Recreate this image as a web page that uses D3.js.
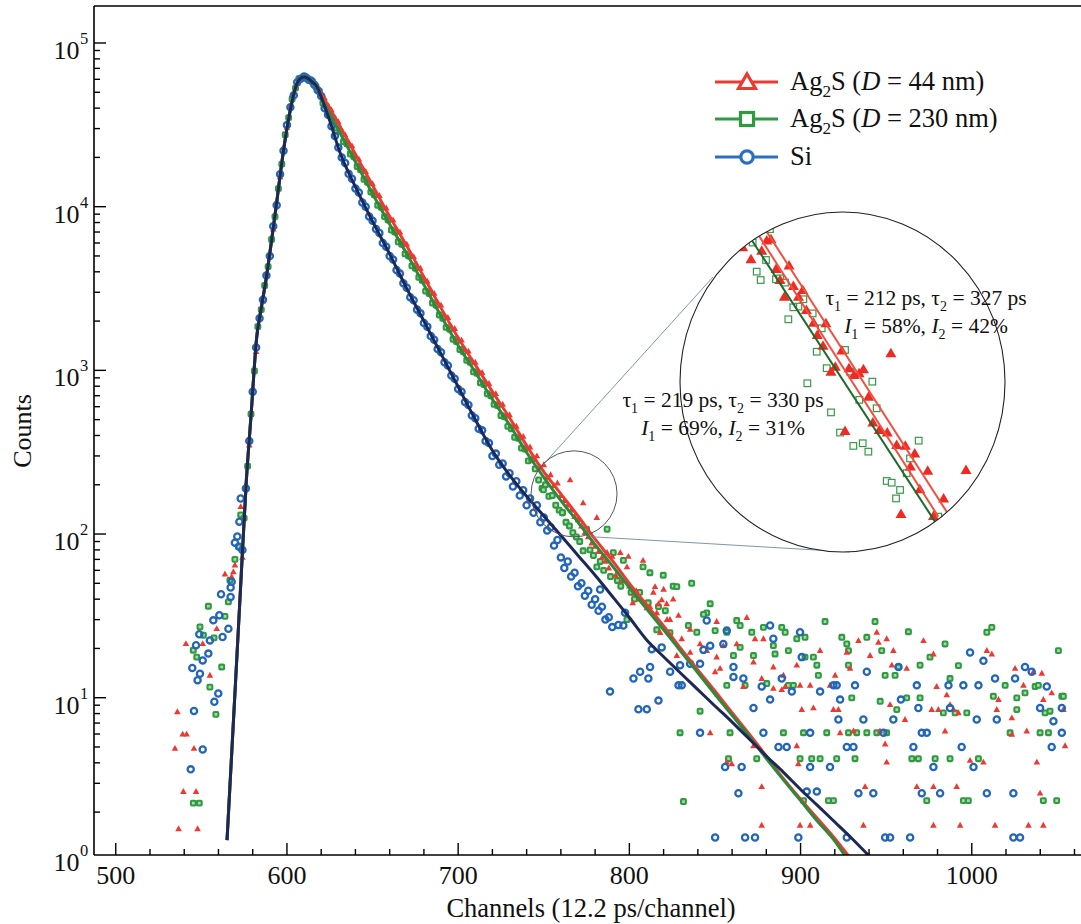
<!DOCTYPE html>
<html><head><meta charset="utf-8">
<script src="https://cdn.jsdelivr.net/npm/d3@7"></script>
<style>body{margin:0;background:#fff}svg{display:block;font-family:"Liberation Serif","Times New Roman",serif}</style>
</head><body>
<svg id="c" width="1081" height="924"></svg>
<script>
// ---------------- DATA ----------------
const xMajorTicks = [500, 600, 700, 800, 900, 1000];
const yExponents = [0, 1, 2, 3, 4, 5];
const seriesNames = ["Ag2S (D = 44 nm)", "Ag2S (D = 230 nm)", "Si"];

// fitted curves [channel, counts]
const siFit = [[565,1.35],[567,3.3],[570,12.6],[573,49],[576.3,214],[579,525],[582.4,1620],[585,2400],[588.4,3950],[591,6200],[594.2,11000],[597,18600],[600,30000],[603,44000],[605.7,56000],[608,61000],[610,62000],[612,61000],[615,57500],[617.6,53800],[620,46800],[625,33500],[631,21400],[640,13200],[650,8130],[660,5130],[670,3160],[680,2000],[690,1260],[700,794],[710,501],[720,324],[730,229],[740,170],[750,129],[760,98],[770,74],[780,56],[790,41.7],[800,30.9],[810,22.6],[820,17.8],[830,14.1],[840,11.2],[850,8.9],[860,7.1],[870,5.6],[880,4.4],[890,3.5],[900,2.75],[910,2.19],[920,1.74],[930,1.38],[940,1.08]];
const ag44Fit = [[565,1.35],[567,3.3],[570,12.6],[573,49],[576.3,214],[579,525],[582.4,1620],[585,2400],[588.4,3950],[591,6200],[594.2,11000],[597,18600],[600,30000],[603,44000],[605.7,56000],[608,61000],[610,62000],[612,61000],[615,58000],[617.6,53800],[620,49000],[630,32400],[640,20900],[650,13500],[660,8700],[670,5750],[680,3720],[690,2400],[700,1580],[710,1080],[720,741],[730,513],[740,347],[748,257],[760,176],[770,129],[780,93],[790,69],[800,50],[810,37],[820,27.5],[830,20],[840,14.8],[850,11],[860,8.1],[870,6.0],[880,4.4],[890,3.2],[900,2.4],[910,1.82],[920,1.38],[928,1.08]];
const ag230Fit = [[565,1.35],[567,3.3],[570,12.6],[573,49],[576.3,214],[579,525],[582.4,1620],[585,2400],[588.4,3950],[591,6200],[594.2,11000],[597,18600],[600,30000],[603,44000],[605.7,56000],[608,61000],[610,62000],[612,61000],[615,57500],[617.6,53800],[620,47000],[630,29500],[640,18800],[650,12000],[660,7800],[670,5150],[680,3330],[690,2150],[700,1420],[710,975],[720,665],[730,465],[740,315],[750,222],[760,160],[770,118],[780,86],[790,64],[800,47],[810,35],[820,26],[830,19.2],[840,14.2],[850,10.5],[860,7.8],[870,5.8],[880,4.25],[890,3.15],[900,2.35],[910,1.75],[920,1.33],[926,1.08]];

// dense measured band: counts every 2 channels
const siBandStart = 574;
const siBand = [80,190,370,740,1380,2080,2700,3800,5000,7600,10200,15800,22000,31500,40500,48000,57500,60500,62500,60500,59000,55500,51500,47500,40000,36500,31000,27000,23000,20000,18500,15900,14800,12900,12200,10600,10000,8700,8200,7300,6900,6000,5700,5000,4750,4100,3900,3400,3200,2800,2680,2350,2230,1950,1850,1620,1540,1350,1290,1120,1070,930,890,770,740,640,615,530,510,440,430,370,360,300,310,265,270,225,235,195,210,172,185,150,165,135,150,118,126,105,110,85,92,72,62,68,55,58,48,50,42,45,37,40,34,36,30,31,27];
const ag44BandStart = 574;
const ag44Band = [72,200,350,780,1300,2150,2650,3900,5200,7300,10800,15200,23000,30500,41000,49500,56500,61500,61000,61500,58500,57000,53500,49500,46000,41500,39000,35000,33000,29000,27500,24800,23500,20500,19500,17300,16400,14500,13800,12100,11700,10200,9800,8600,8300,7300,7000,6100,5900,5200,4950,4350,4200,3650,3500,3100,2950,2600,2500,2180,2100,1850,1800,1560,1530,1340,1310,1150,1120,980,970,850,830,730,720,630,620,540,535,465,455,400,395,340,340,295,300,255,265,222,230,198,205,172];
const ag230BandStart = 575;
const ag230Band = [125,260,540,990,1850,2350,3300,4300,6300,8700,12900,18200,27500,35000,45500,53000,60500,61000,62000,59000,58000,54000,50500,43000,41000,36000,34500,30200,28800,25000,24200,21000,20200,17600,16800,14700,14100,12300,11800,10200,9900,8700,8300,7200,7000,6100,5900,5150,5000,4350,4200,3700,3550,3050,2950,2580,2500,2180,2080,1830,1780,1550,1500,1340,1300,1150,1120,980,960,840,820,720,700,620,610,530,520,455,440,390,385,335,330,280,285,250,214,190,200,170,172,150,140,135];

// early (pre-rise) points [channel, counts]
const siPre = [[543.8,3.65],[544.7,15.2],[545.7,8.29],[546.9,20.9],[547.8,12.8],[548.8,24.4],[549.2,14.0],[550.8,16.9],[550.8,4.83],[554.1,18.6],[555.0,22.4],[557.0,29.7],[557.6,9.45],[559.9,10.6],[560.5,31.9],[561.5,42.9],[562.4,23.5],[565.8,26.4],[567.1,47.1],[567.1,41.3],[567.7,51.1],[569.6,88.6],[571.0,96.5],[572.2,119],[572.2,83.7],[573.0,165]];
const ag44Pre = [[534.6,4.9],[536.0,8.21],[536.7,1.58],[539.1,5.99],[539.5,2.67],[541.0,21.4],[541.4,5.99],[545.7,4.9],[546.9,2.67],[547.8,1.58],[550.8,21.4],[555.0,13.7],[559.0,26.4],[563.8,56.9],[567.7,54.8],[568.7,58.8],[569.6,64.6],[573.0,147]];
const ag230Pre = [[545.3,19.5],[545.3,2.27],[547.3,17.7],[548.8,2.27],[549.2,27.1],[551.2,24.1],[554.1,36.2],[555.0,11.6],[557.4,23.2],[558.5,7.91],[561.9,15.4],[563.8,31.4],[565.8,38.5],[566.7,52.3],[569.6,70],[571.6,83.7],[573.0,131]];

// intermediate region scatter
const ag44Mid = [[762,160],[764,150],[765.4,214],[766,140],[768,128],[770,122],[772,112],[773,155],[774,102],[776,96],[778,88],[780,84],[781,126],[782,78],[784,72],[786,68],[787,77],[788,62],[790,73],[792,56],[794.7,77],[796,52],[798.6,63],[799.4,73],[800,48],[802,38],[802.4,43.6],[804,45],[806,40],[808,69],[810.2,35.4],[812,36],[814,44],[815,47.7],[816,33],[818,25],[820,46],[822,30],[823.7,30],[825.6,40]];
const ag230Mid = [[749.8,186],[760.8,135],[763,118],[765,112],[767,102],[769,96],[771,90],[773,79],[775,107],[777,80],[779,74],[781,63],[783,68],[785,60],[787,107],[789,55],[790.6,77],[793,52],[795,48],[796.5,69],[798.6,30],[801,44],[803,40],[806,44],[808,63],[811,38],[812,58],[816,26],[817,36],[819.8,56],[821,34],[823.7,25],[825.6,48]];

// background tail points
const siTail = [[788.7,10.9],[782.9,45.8],[793.6,27.8],[796.5,27.6],[797.5,33.0],[802.4,13.1],[806.3,14.4],[812.1,15.4],[811.1,13.1],[805.3,8.5],[810.2,8.5],[817.0,9.6],[813.1,19.8],[818.9,20.3],[828.7,11.9],[830.6,11.9],[823.8,14.4],[829.6,15.8],[835.5,16.1],[841.3,16.1],[843.3,19.6],[845.2,29.6],[841.3,6.1],[847.2,20.8],[854.9,21.3],[856.9,25.7],[860.8,15.4],[855.9,3.77],[865.6,3.77],[863.7,2.61],[860.8,13.4],[866.6,13.1],[872.5,8.66],[878.3,6.11],[877.3,11.7],[882.2,9.74],[882.2,27.6],[884.1,22.9],[887.1,5.0],[891.9,5.0],[889.0,13.1],[894.9,10.9],[899.7,25.1],[900.7,17.7],[905.6,6.1],[905.6,3.77],[903.6,2.67],[909.5,2.67],[911.4,10.9],[917.2,3.77],[919.2,11.9],[921.1,11.9],[922.1,7.36],[923.1,9.74],[927.0,5.0],[930.9,5.0],[931.8,11.9],[936.7,7.36],[938.7,14.4],[942.5,2.61],[933.8,2.61],[948.4,6.1],[954.2,7.36],[957.2,15.4],[958.6,9.74],[965.9,5.0],[967.9,11.9],[968.8,8.66],[970.8,6.1],[973.7,6.1],[970.8,2.61],[977.6,3.77],[981.5,2.61],[986.4,11.9],[987.3,8.66],[994.1,5.0],[995.1,11.9],[999.0,18.9],[1001.0,3.77],[1002.9,7.36],[1006.8,16.8],[1003.9,11.9],[1008.8,2.61],[1014.6,7.36],[1013.6,13.1],[1025.3,13.1],[1024.3,2.61],[1031.1,15.4],[1035.0,14.4],[1039.9,8.66],[1043.8,11.7],[1046.7,5.0],[1047.7,7.19],[1052.6,6.1],[1052.6,8.66],[850.1,1.4],[867.6,1.4],[873.4,1.4],[898.7,1.4],[927.0,1.4],[949.4,1.4],[952.3,1.4],[964.0,1.4],[1024.3,1.4],[1028.2,1.4]];
const ag44Tail = [[868.6,30.9],[873.4,22.9],[878.3,22.9],[851.0,29.2],[828.7,31.8],[821.8,37.5],[818.9,39.6],[817.0,37.5],[835.5,26.2],[830.6,22.9],[827.7,18.1],[835.5,18.9],[841.3,21.3],[845.2,19.4],[851.0,17.7],[854.9,20.8],[862.7,21.3],[850.1,14.4],[853.0,15.1],[866.6,11.7],[872.5,16.5],[884.1,15.4],[890.0,13.7],[897.8,15.8],[877.3,13.1],[884.1,11.4],[889.0,11.2],[891.0,11.7],[899.7,11.9],[905.6,11.9],[911.4,19.4],[917.2,11.9],[920.2,13.7],[927.0,18.9],[928.9,15.1],[933.8,22.3],[940.6,18.1],[944.5,25.1],[945.5,21.8],[950.3,22.9],[954.2,19.4],[953.3,15.8],[962.0,15.1],[971.8,22.3],[977.6,18.5],[979.5,11.7],[985.4,10.4],[987.3,9.07],[989.3,8.46],[980.5,8.46],[992.2,8.08],[999.0,4.14],[1006.8,4.04],[1008.8,19.4],[1011.7,18.5],[1015.6,9.74],[1023.4,7.53],[1025.3,15.1],[1030.2,11.9],[1036.0,14.4],[1040.9,14.1],[1046.7,10.7],[1041.8,9.74],[1053.5,8.46],[1038.0,4.04],[847.2,6.11],[856.9,4.04],[859.8,3.95],[872.5,5.08],[897.8,5.08],[898.7,3.95],[877.3,2.86],[899.7,1.66],[905.6,1.66],[877.3,1.66],[937.7,2.86],[936.7,1.66],[950.3,4.04],[967.9,2.86],[977.6,2.86],[991.2,2.86],[977.6,1.66],[993.2,1.66],[1013.6,1.66],[1033.1,1.66],[1041.8,1.66],[919.2,8.46],[922.1,8.46],[907.5,8.66],[900.7,8.46],[952.3,9.07],[961.0,7.36],[976.6,8.46],[984.4,6.26],[1014.6,8.46],[1023.4,5.97],[1032.1,6.26],[1054.5,5.08],[1039.9,2.61],[949.4,5.21],[946.4,6.26],[923.1,6.11],[930.9,6.26]];
const ag230Tail = [[827.7,47.7],[836.4,50.0],[847.2,37.5],[845.2,33.0],[843.3,32.3],[839.4,25.1],[834.5,27.6],[850.1,25.7],[856.9,25.1],[862.7,29.6],[864.7,27.6],[864.7,20.3],[871.5,25.1],[878.3,26.9],[884.1,20.8],[889.0,26.9],[891.0,25.1],[892.9,19.4],[897.8,22.9],[902.6,23.4],[902.6,17.7],[907.5,17.7],[909.5,15.8],[910.4,13.7],[914.3,29.2],[924.1,23.4],[927.0,21.3],[928.0,19.4],[928.0,15.8],[938.7,23.4],[943.5,29.2],[947.4,19.4],[949.4,13.7],[955.2,13.7],[957.2,15.4],[963.0,25.3],[969.8,15.8],[975.6,17.7],[984.4,21.3],[987.3,13.1],[992.2,15.7],[1008.8,25.1],[1011.7,26.9],[1019.5,11.9],[1026.3,9.97],[1031.1,10.7],[1037.0,11.7],[1038.9,11.9],[1042.8,8.08],[1045.7,8.27],[1050.6,19.4],[1052.6,10.2],[880.3,12.2],[867.6,11.9],[856.9,11.9],[860.8,18.1],[872.5,18.1],[885.1,18.5],[892.9,11.9],[895.8,11.9],[901.7,6.11],[899.7,4.24],[906.5,4.24],[911.4,4.24],[921.1,4.24],[931.8,4.24],[915.3,6.11],[928.0,6.11],[932.8,6.11],[938.7,6.11],[944.5,6.11],[950.3,6.11],[956.2,8.46],[962.0,9.97],[969.8,9.97],[978.6,4.24],[987.3,4.24],[1003.9,4.24],[1022.4,6.11],[1039.9,6.11],[1044.8,6.11],[1026.3,8.46],[1012.6,10.2],[968.8,4.24],[965.0,4.24],[890.0,6.11],[874.4,4.24],[857.9,4.24],[858.8,6.11],[841.3,8.27],[829.6,6.11],[831.6,2.32],[901.7,2.35],[916.3,2.35],[919.2,2.35],[973.7,2.35],[995.1,2.35],[998.0,2.35],[1041.8,2.35],[1049.6,2.35],[1053.5,10.2],[983.4,8.08],[990.3,8.08],[997.1,8.08],[946.5,9.51],[929.9,9.97]];

// magnified inset [channel, counts]
const insetAg44 = [[753.68,267.7],[754.83,257.5],[756.31,264.8],[757.0,273.5],[757.6,274.7],[758.3,249.6],[760.1,252.3],[759.45,228.2],[760.7,236.2],[762.0,233.2],[761.4,228.2],[762.5,218.6],[763.5,209.8],[765.2,209.4],[764.0,201.6],[764.8,194.8],[767.4,191.7],[774.2,190.0],[766.5,182.0],[765.9,179.1],[768.4,181.1],[769.1,177.2],[770.4,180.5],[769.8,178.2],[771.1,165.2],[771.7,151.9],[772.6,148.3],[773.7,147.1],[775.0,141.3],[776.2,141.0],[777.5,137.5],[776.9,131.8],[779.3,130.0],[784.6,130.3],[778.2,122.5],[781.5,118.9],[775.6,113.1],[780.1,112.3],[767.85,147.9],[758.85,240.8]];
const insetAg230 = [[757.46,283.8],[755.06,271.8],[756.91,256.9],[755.62,247.4],[756.17,240.8],[758.29,241.4],[758.85,242.1],[759.54,238.8],[761.39,221.0],[760.69,220.5],[762.08,226.3],[760.0,212.1],[763.37,216.2],[764.62,206.0],[763.93,191.0],[767.85,192.1],[765.31,181.1],[768.54,179.1],[771.63,173.4],[762.63,172.5],[769.83,163.5],[772.23,159.1],[765.91,157.0],[767.16,147.1],[769.0,140.9],[770.3,142.1],[771.08,138.3],[778.05,143.3],[776.85,135.3],[776.39,129.0],[773.62,125.8],[774.31,125.1],[775.47,122.2],[774.91,118.9],[780.77,112.1]];
const insetAg44Lines = [[[755.85,278.6],[780.77,112.1]],[[757.0,281.6],[781.93,113.9]]];
const insetAg230Line = [[754.92,274.1],[780.31,110.3]];
const magnifierCenter = [767.7, 176];

const annotA = [[["τ"],["1","sub"],[" = 212 ps, τ"],["2","sub"],[" = 327 ps"]],[["I","it"],["1","sub"],[" = 58%, "],["I","it"],["2","sub"],[" = 42%"]]];
const annotB = [[["τ"],["1","sub"],[" = 219 ps, τ"],["2","sub"],[" = 330 ps"]],[["I","it"],["1","sub"],[" = 69%, "],["I","it"],["2","sub"],[" = 31%"]]];

// ---------------- DRAW ----------------
const RED = "#ec3a33", GREEN = "#2f9a40", BLUE = "#2266bb", NAVY = "#1b2858", GREENLINE = "#2e8a3a";
const svg = d3.select("#c");
const x = d3.scaleLinear().domain([487.3, 1063.8]).range([94, 1081]);
const y = d3.scaleLog().domain([1.094, 168300]).range([855, 6]);
const yc = y.copy().clamp(true);

svg.append("defs").append("clipPath").attr("id", "plotclip")
  .append("rect").attr("x", 94).attr("y", 6).attr("width", 987).attr("height", 849);

const plot = svg.append("g").attr("clip-path", "url(#plotclip)");

function bandPoints(start, arr) { return arr.map((v, i) => [start + 2 * i, v]); }
const siPts = siPre.concat(bandPoints(siBandStart, siBand), siTail);
const ag44Pts = ag44Pre.concat(bandPoints(ag44BandStart, ag44Band), ag44Mid, ag44Tail);
const ag230Pts = ag230Pre.concat(bandPoints(ag230BandStart, ag230Band), ag230Mid, ag230Tail);

const tri = "M0,-3.5L3.3,2.4L-3.3,2.4Z";
plot.append("g").selectAll("rect").data(ag230Pts).join("rect")
  .attr("x", d => x(d[0]) - 2.4).attr("y", d => y(d[1]) - 2.4)
  .attr("width", 4.8).attr("height", 4.8).attr("rx", 1)
  .attr("fill", "#a9d9a9").attr("stroke", GREEN).attr("stroke-width", 2.1);
plot.append("g").selectAll("path").data(ag44Pts).join("path")
  .attr("d", tri).attr("transform", d => `translate(${x(d[0])},${y(d[1])})`)
  .attr("fill", RED);
plot.append("g").selectAll("circle").data(siPts).join("circle")
  .attr("cx", d => x(d[0])).attr("cy", d => y(d[1])).attr("r", 3.1)
  .attr("fill", "none").attr("stroke", BLUE).attr("stroke-width", 2.3);

const line = d3.line().x(d => x(d[0])).y(d => y(d[1])).curve(d3.curveMonotoneX);
plot.append("path").datum(ag44Fit).attr("d", line).attr("fill", "none").attr("stroke", RED).attr("stroke-width", 3);
plot.append("path").datum(ag230Fit).attr("d", line).attr("fill", "none").attr("stroke", GREENLINE).attr("stroke-width", 3);
plot.append("path").datum(siFit).attr("d", line).attr("fill", "none").attr("stroke", NAVY).attr("stroke-width", 3);

// axes
const ax = svg.append("g").attr("stroke", "#000");
ax.append("line").attr("x1", 94).attr("x2", 1081).attr("y1", 855).attr("y2", 855).attr("stroke-width", 1.6);
ax.append("line").attr("x1", 94).attr("x2", 94).attr("y1", 6).attr("y2", 855).attr("stroke-width", 1.6);
ax.append("line").attr("x1", 94).attr("x2", 1081).attr("y1", 6).attr("y2", 6).attr("stroke-width", 1.4);

const xMinor = d3.range(500, 1061, 20).filter(v => !xMajorTicks.includes(v));
ax.selectAll(".xmin").data(xMinor).join("line").attr("class", "xmin")
  .attr("x1", d => x(d)).attr("x2", d => x(d)).attr("y1", 855).attr("y2", 849).attr("stroke-width", 1.4);
ax.selectAll(".xmaj").data(xMajorTicks).join("line").attr("class", "xmaj")
  .attr("x1", d => x(d)).attr("x2", d => x(d)).attr("y1", 855).attr("y2", 843).attr("stroke-width", 1.4);
svg.selectAll(".xlab").data(xMajorTicks).join("text").attr("class", "xlab")
  .attr("x", d => x(d)).attr("y", 884).attr("text-anchor", "middle")
  .attr("font-size", 26).attr("fill", "#111").text(d => d);

const yMinor = [];
for (let k = 0; k < 5; k++) for (let m = 2; m <= 9; m++) yMinor.push(m * Math.pow(10, k));
ax.selectAll(".ymin").data(yMinor).join("line").attr("class", "ymin")
  .attr("x1", 94).attr("x2", 100).attr("y1", d => y(d)).attr("y2", d => y(d)).attr("stroke-width", 1.4);
ax.selectAll(".ymaj").data(yExponents.filter(e => e > 0)).join("line").attr("class", "ymaj")
  .attr("x1", 94).attr("x2", 106).attr("y1", d => y(Math.pow(10, d))).attr("y2", d => y(Math.pow(10, d))).attr("stroke-width", 1.4);
const ylab = svg.selectAll(".ylab").data(yExponents).join("g").attr("class", "ylab")
  .attr("transform", d => `translate(0,${yc(Math.pow(10, d))})`);
ylab.append("text").attr("x", 79.5).attr("y", 16).attr("text-anchor", "end").attr("font-size", 26).attr("fill", "#111").text("10");
ylab.append("text").attr("x", 80).attr("y", 1).attr("font-size", 16.5).attr("fill", "#111").text(d => d);

svg.append("text").attr("x", 591).attr("y", 917).attr("text-anchor", "middle").attr("font-size", 26.5).attr("fill", "#111")
  .text("Channels (12.2 ps/channel)");
svg.append("text").attr("transform", "translate(31,431) rotate(-90)").attr("text-anchor", "middle").attr("font-size", 26).attr("fill", "#111")
  .text("Counts");

// rich text helper
function rich(sel, parts, size) {
  let shifted = false;
  parts.forEach(p => {
    const t = sel.append("tspan").text(p[0]);
    if (p[1] === "sub") { t.attr("font-size", size * 0.65).attr("dy", size * 0.28); shifted = true; }
    else {
      if (shifted) { t.attr("dy", -size * 0.28); shifted = false; }
      if (p[1] === "it") t.attr("font-style", "italic");
    }
  });
}

// legend
const legendRows = [
  {y: 82, color: RED, shape: "tri", parts: [["Ag"],["2","sub"],["S ("],["D","it"],[" = 44 nm)"]]},
  {y: 119, color: GREEN, shape: "sq", parts: [["Ag"],["2","sub"],["S ("],["D","it"],[" = 230 nm)"]]},
  {y: 157, color: "#2a6fc0", shape: "ci", parts: [["Si"]]}
];
legendRows.forEach(r => {
  const g = svg.append("g");
  g.append("line").attr("x1", 715).attr("x2", 778).attr("y1", r.y).attr("y2", r.y).attr("stroke", r.color).attr("stroke-width", 3);
  if (r.shape === "tri") g.append("path").attr("d", "M0,-8L8.5,6.5L-8.5,6.5Z").attr("transform", `translate(747,${r.y})`).attr("fill", "#fff").attr("stroke", r.color).attr("stroke-width", 3.2);
  if (r.shape === "sq") g.append("rect").attr("x", 747 - 6.5).attr("y", r.y - 6.5).attr("width", 13).attr("height", 13).attr("fill", "#fff").attr("stroke", r.color).attr("stroke-width", 3.2);
  if (r.shape === "ci") g.append("circle").attr("cx", 747).attr("cy", r.y).attr("r", 6.2).attr("fill", "#fff").attr("stroke", r.color).attr("stroke-width", 3.2);
  const t = g.append("text").attr("x", 790).attr("y", r.y + 8).attr("font-size", 26.5).attr("fill", "#111");
  rich(t, r.parts, 26.5);
});

// magnifier
const mcx = x(magnifierCenter[0]), mcy = y(magnifierCenter[1]);
const conn = svg.append("g").attr("stroke", "#7d98a8").attr("stroke-width", 1).attr("fill", "none");
conn.append("line").attr("x1", mcx - 31).attr("y1", mcy - 29).attr("x2", 713).attr("y2", 277);
conn.append("line").attr("x1", mcx + 19).attr("y1", mcy + 43).attr("x2", 850).attr("y2", 552);
svg.append("circle").attr("cx", mcx).attr("cy", mcy).attr("r", 43).attr("fill", "none").attr("stroke", "#555").attr("stroke-width", 1);

// inset
const ICX = 842.5, ICY = 382, IRX = 162.5, IRY = 170;
const ix = d3.scaleLinear().domain([745, 790]).range([680, 1005]);
const iy = d3.scaleLog().domain([100, 300]).range([552, 212]);
svg.select("defs").append("clipPath").attr("id", "insetclip")
  .append("ellipse").attr("cx", ICX).attr("cy", ICY).attr("rx", IRX).attr("ry", IRY);
svg.append("ellipse").attr("cx", ICX).attr("cy", ICY).attr("rx", IRX).attr("ry", IRY).attr("fill", "#fff");
const ins = svg.append("g").attr("clip-path", "url(#insetclip)");
const iline = d3.line().x(d => ix(d[0])).y(d => iy(d[1]));
ins.selectAll(".isq").data(insetAg230).join("rect").attr("class", "isq")
  .attr("x", d => ix(d[0]) - 3.3).attr("y", d => iy(d[1]) - 3.3).attr("width", 6.6).attr("height", 6.6)
  .attr("fill", "#fff").attr("stroke", "#3a9a4a").attr("stroke-width", 1.2);
ins.selectAll(".itri").data(insetAg44).join("path").attr("class", "itri")
  .attr("d", "M0,-5.5L5.5,4L-5.5,4Z").attr("transform", d => `translate(${ix(d[0])},${iy(d[1])})`).attr("fill", "#ee2a22");
insetAg44Lines.forEach(l => ins.append("path").datum(l).attr("d", iline).attr("stroke", "#f0503f").attr("stroke-width", 2).attr("fill", "none"));
ins.append("path").datum(insetAg230Line).attr("d", iline).attr("stroke", "#1d6b2c").attr("stroke-width", 2).attr("fill", "none");
svg.append("ellipse").attr("cx", ICX).attr("cy", ICY).attr("rx", IRX).attr("ry", IRY).attr("fill", "none").attr("stroke", "#222").attr("stroke-width", 1.1);

// annotations
function annot(cx, baselines, lines) {
  lines.forEach((parts, i) => {
    const t = svg.append("text").attr("x", cx).attr("y", baselines[i]).attr("text-anchor", "middle").attr("font-size", 21.5).attr("fill", "#111");
    rich(t, parts, 21.5);
  });
}
annot(926, [305, 333], annotA);
annot(723, [407, 435], annotB);
</script>
</body></html>
